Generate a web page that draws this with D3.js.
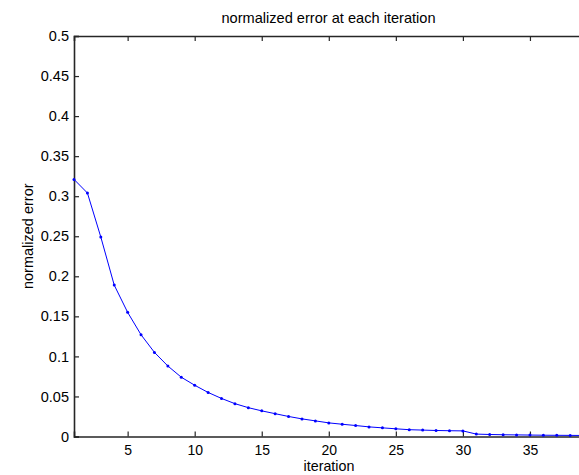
<!DOCTYPE html>
<html>
<head>
<meta charset="utf-8">
<script src="https://cdn.jsdelivr.net/npm/d3@7"></script>
<style>
  body { margin: 0; background: #fff; }
  svg { display: block; }
  text { font-family: "Liberation Sans", Arial, sans-serif; fill: #000; }
</style>
</head>
<body>
<svg width="579" height="475"></svg>
<script>
// iteration numbers and normalized error
var iterations = d3.range(1, 41);
var errors = [0.321, 0.304, 0.249, 0.189, 0.155, 0.127, 0.105, 0.088, 0.074, 0.064,
              0.055, 0.0475, 0.041, 0.036, 0.032, 0.0285, 0.025, 0.022, 0.0195, 0.017,
              0.0153, 0.0137, 0.012, 0.0108, 0.0096, 0.0085, 0.008, 0.0075, 0.0072, 0.007,
              0.003, 0.0025, 0.0022, 0.002, 0.0018, 0.0016, 0.0015, 0.0014, 0.0013, 0.0012];
var xTicks = [5, 10, 15, 20, 25, 30, 35];
var yTicks = [0, 0.05, 0.1, 0.15, 0.2, 0.25, 0.3, 0.35, 0.4, 0.45, 0.5];

var titleText = "normalized error at each iteration",
    xLabel = "iteration",
    yLabel = "normalized error";

var svg = d3.select("svg"),
    mLeft = 74, mTop = 36, mBottom = 436.5, mRight = 597;

var x = d3.scaleLinear().domain([1, 40]).range([mLeft, mRight]);
var y = d3.scaleLinear().domain([0, 0.5]).range([mBottom, mTop]);

var axisColor = "#262626";

// bottom axis, ticks pointing inward
var gx = svg.append("g")
    .attr("transform", "translate(0," + mBottom + ")")
    .call(d3.axisBottom(x).tickValues(xTicks).tickSize(-5).tickPadding(9).tickFormat(d3.format("d")));
gx.selectAll("text").attr("font-size", 14);

// top axis, ticks only
var gxt = svg.append("g")
    .attr("transform", "translate(0," + mTop + ")")
    .call(d3.axisTop(x).tickValues(xTicks).tickSize(-5).tickFormat(""));

// left axis
var gy = svg.append("g")
    .attr("transform", "translate(" + mLeft + ",0)")
    .call(d3.axisLeft(y).tickValues(yTicks).tickSize(-5).tickPadding(5)
        .tickFormat(function(d) { return String(+d.toFixed(2)); }));
gy.selectAll("text").attr("font-size", 14.5);

[gx, gxt, gy].forEach(function(g) {
    g.select(".domain").attr("stroke", axisColor).attr("stroke-width", 1.6);
    g.selectAll(".tick line").attr("stroke", axisColor).attr("stroke-width", 1.2);
    g.selectAll("text")
        .attr("fill", "#000")
        .attr("font-family", "Liberation Sans, Arial, sans-serif");
});

var pts = iterations.map(function(d, i) { return [d, errors[i]]; });

var line = d3.line()
    .x(function(d) { return x(d[0]); })
    .y(function(d) { return y(d[1]); });

svg.append("path")
    .datum(pts)
    .attr("fill", "none")
    .attr("stroke", "#0000ff")
    .attr("stroke-width", 1)
    .attr("d", line);

svg.append("g").selectAll("circle")
    .data(pts)
    .enter().append("circle")
    .attr("cx", function(d) { return x(d[0]); })
    .attr("cy", function(d) { return y(d[1]); })
    .attr("r", 1.5)
    .attr("fill", "#0000ff");

// title and labels
svg.append("text")
    .attr("x", 328.5).attr("y", 23)
    .attr("text-anchor", "middle")
    .attr("font-size", 14.6)
    .text(titleText);

svg.append("text")
    .attr("x", 329).attr("y", 471)
    .attr("text-anchor", "middle")
    .attr("font-size", 14.3)
    .text(xLabel);

svg.append("text")
    .attr("transform", "translate(33," + ((mTop + mBottom) / 2) + ") rotate(-90)")
    .attr("text-anchor", "middle")
    .attr("font-size", 14.5)
    .text(yLabel);
</script>
</body>
</html>
